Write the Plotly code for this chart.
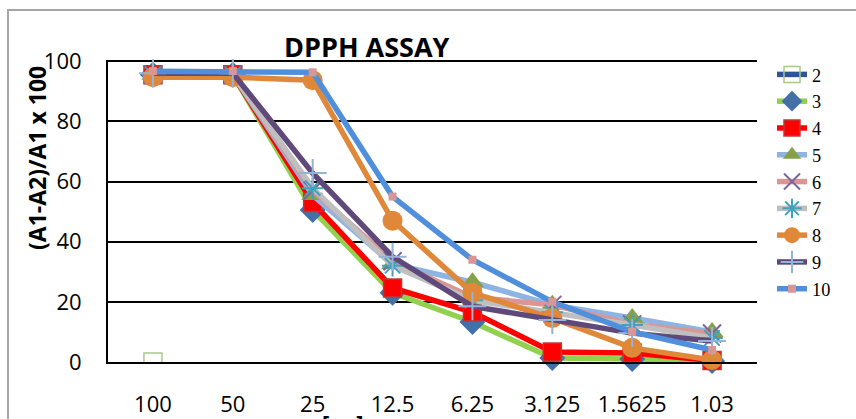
import plotly.graph_objects as go

# Concentrations (x categories)
concentrations = ["100", "50", "25", "12.5", "6.25", "3.125", "1.5625", "1.03"]

# % inhibition per sample
s2 = [0, None, None, None, None, None, None, None]
s3 = [95.5, 95.5, 50.5, 23.0, 13.3, 1.3, 1.0, 0.3]
s4 = [95.5, 95.5, 53.0, 24.6, 16.6, 3.3, 3.0, 0.5]
s5 = [95.5, 95.5, 55.5, 32.5, 26.5, 19.0, 14.6, 10.0]
s6 = [95.5, 95.5, 57.0, 33.5, 21.5, 19.0, 12.5, 9.5]
s7 = [95.5, 95.5, 57.8, 32.0, 20.5, 16.5, 12.3, 8.0]
s8 = [94.7, 94.7, 93.7, 47.0, 23.0, 14.6, 4.7, 0.7]
s9 = [96.0, 96.0, 62.8, 35.0, 18.5, 14.0, 9.6, 7.0]
s10 = [96.7, 96.7, 96.3, 55.0, 34.0, 20.0, 10.0, 4.0]

series_names = ["2", "3", "4", "5", "6", "7", "8", "9", "10"]
series_values = [s2, s3, s4, s5, s6, s7, s8, s9, s10]

# line colour, marker symbol, marker size, marker fill, marker outline colour, outline width
styles = [
    ("#2F5597", "square", 18, "rgba(255,255,255,0)", "#A9C98A", 1.5),
    ("#92D050", "diamond", 20, "#4470A8", "#4470A8", 0),
    ("#FF0000", "square", 18, "#FF0000", "#B83B3B", 1.5),
    ("#8DB4E2", "triangle-up", 20, "#86A04A", "#86A04A", 0),
    ("#DA9694", "x-thin-open", 18, "#7E649E", "#7E649E", 2),
    ("#BFBFBF", "asterisk-open", 18, "#3FA3BE", "#3FA3BE", 2),
    ("#E0883A", "circle", 20, "#E0883A", "#E0883A", 0),
    ("#5F497A", "cross-thin-open", 20, "#95B3D7", "#95B3D7", 2),
    ("#4F8FDB", "square", 8, "#D99694", "#D99694", 0),
]

fig = go.Figure()
for name, vals, (lc, sym, sz, fill, mlc, mlw) in zip(series_names, series_values, styles):
    fig.add_trace(go.Scatter(
        x=concentrations, y=vals, name=name, mode="lines+markers",
        line=dict(color=lc, width=5.5),
        marker=dict(symbol=sym, size=sz, color=fill,
                    line=dict(color=mlc, width=mlw)),
        cliponaxis=(name == "2"),
    ))

W, H = 856, 419
L, R, T, B = 108, 757, 60, 362
YMAX = 100.4


def px_x(p):
    return (p - L) / (R - L)


def px_y(p):
    return (B - p) / (B - T)


fig.update_layout(
    template="none",
    width=W, height=H,
    margin=dict(l=L, r=W - R, t=T, b=H - B, pad=0),
    paper_bgcolor="white", plot_bgcolor="white",
    font=dict(family="Open Sans, sans-serif", color="black"),
    showlegend=True,
    legend=dict(
        x=px_x(772), y=px_y(182), xanchor="left", yanchor="middle",
        font=dict(family="Liberation Serif, serif", size=18.3, color="black"),
        bgcolor="rgba(0,0,0,0)", borderwidth=0,
    ),
    xaxis=dict(
        type="category", showgrid=False, showline=True, linecolor="black",
        linewidth=2, ticks="", tickfont=dict(size=22),
        ticklabelstandoff=22, zeroline=False, automargin=False,
    ),
    yaxis=dict(
        range=[0, YMAX], tick0=0, dtick=20, showgrid=True, gridcolor="black",
        gridwidth=2, showline=True, linecolor="black", linewidth=2,
        ticks="", tickfont=dict(size=22), ticklabelstandoff=20,
        zeroline=False, automargin=False,
    ),
    shapes=[dict(
        type="rect", xref="paper", yref="paper",
        x0=px_x(8), x1=px_x(880), y0=px_y(440), y1=px_y(10),
        line=dict(color="#A6A6A6", width=2), layer="below",
    )],
    annotations=[
        dict(text="<b>DPPH ASSAY</b>", xref="paper", yref="paper",
             x=px_x(367), y=px_y(46), xanchor="center", yanchor="middle",
             showarrow=False, font=dict(size=27)),
        dict(text="<b>(A1-A2)/A1 x 100</b>", xref="paper", yref="paper",
             x=px_x(37), y=px_y(158), xanchor="center", yanchor="middle",
             textangle=-90, showarrow=False, font=dict(size=23)),
        dict(text="<b>[µg]</b>", xref="paper", yref="paper",
             x=px_x(343), y=px_y(405), xanchor="center", yanchor="top",
             showarrow=False, font=dict(size=22)),
    ],
)

fig.write_html("out.html")
